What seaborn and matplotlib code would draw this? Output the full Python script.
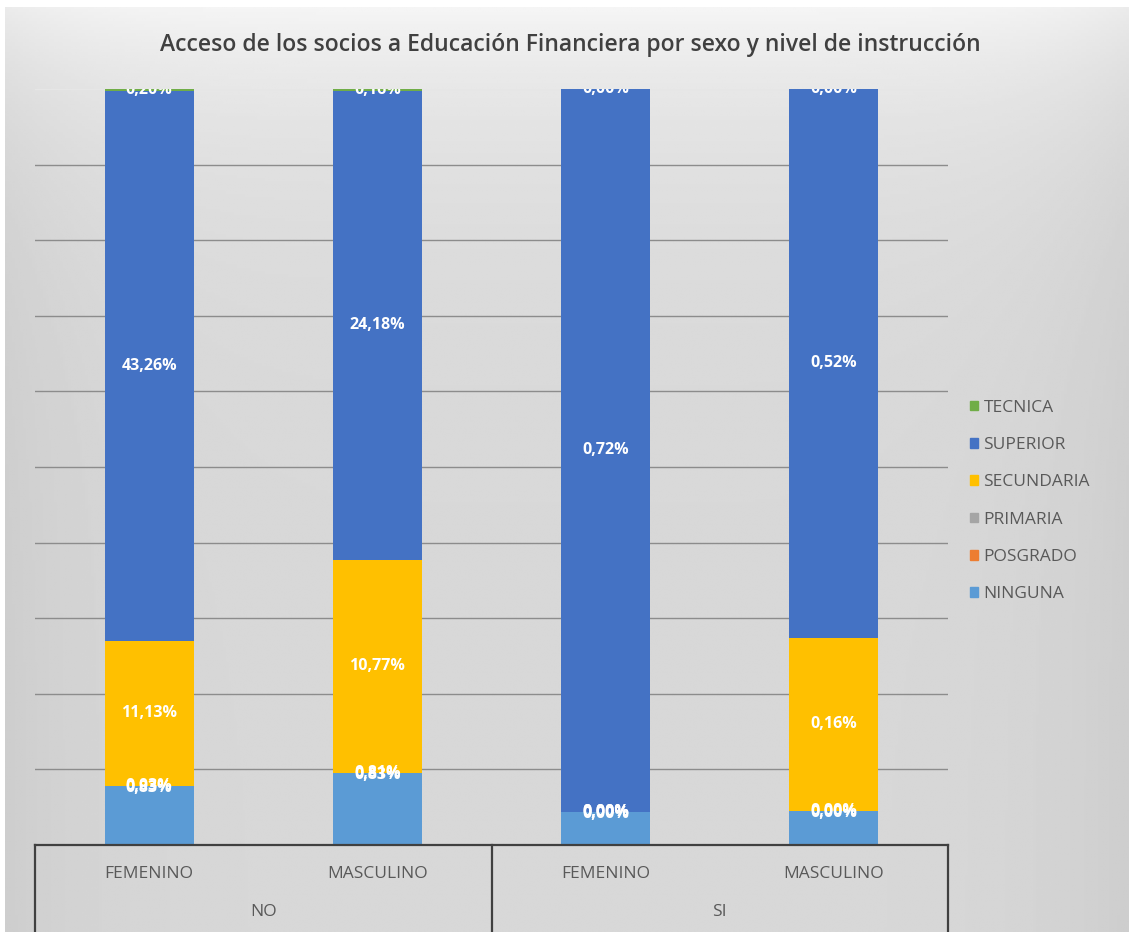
import numpy as np
import pandas as pd
import seaborn as sns
import matplotlib.pyplot as plt
from matplotlib.patches import Patch

# categorias (dos niveles)
grupos = ['NO', 'NO', 'SI', 'SI']
sexos = ['FEMENINO', 'MASCULINO', 'FEMENINO', 'MASCULINO']
niveles = ['NINGUNA', 'POSGRADO', 'PRIMARIA', 'SECUNDARIA', 'SUPERIOR', 'TECNICA']
colores = ['#5B9BD5', '#ED7D31', '#A5A5A5', '#FFC000', '#4472C4', '#70AD47']

# altura de cada segmento: % dentro de cada columna
ninguna = [7.8, 9.5, 4.4, 4.5]
posgrado = [0.0, 0.0, 0.0, 0.0]
primaria = [0.05, 0.05, 0.0, 0.0]
secundaria = [19.2, 28.2, 0.0, 22.9]
superior = [72.7, 62.0, 95.6, 72.6]
tecnica = [0.25, 0.25, 0.0, 0.0]

# etiquetas de datos que muestra el grafico (% del total)
etq_ninguna = [0.83, 0.83, 0.00, 0.00]
etq_primaria = [0.03, 0.81, 0.00, 0.00]
etq_secundaria = [11.13, 10.77, 0.00, 0.16]
etq_superior = [43.26, 24.18, 0.72, 0.52]
etq_tecnica = [0.20, 0.16, 0.00, 0.00]

df = pd.DataFrame({'col': [g + '-' + s for g, s in zip(grupos, sexos)],
                   'NINGUNA': ninguna, 'POSGRADO': posgrado, 'PRIMARIA': primaria,
                   'SECUNDARIA': secundaria, 'SUPERIOR': superior, 'TECNICA': tecnica})
for n in niveles:
    df[n] = df[n] / 100

plt.rcParams['font.family'] = ['Open Sans', 'DejaVu Sans']

fig = plt.figure(figsize=(11.29, 9.32), dpi=100)

# fondo degradado
bg = fig.add_axes([0.004, 0, 0.996, 0.992], zorder=-10)
yy = np.linspace(0, 1, 300)[:, None]
xx = np.linspace(0, 1, 400)[None, :]
fondo = 0.845 + 0.115 * np.exp(-yy * 7) - 0.04 * (2 * xx - 1) ** 6
bg.imshow(fondo, cmap='gray', vmin=0, vmax=1, aspect='auto', extent=[0, 1, 0, 1])
bg.axis('off')

ax = fig.add_axes([35 / 1129, 1 - 845 / 932, (948 - 35) / 1129, (845 - 89) / 932])
ax.set_facecolor('none')

base = np.zeros(len(df))
for n, c in zip(niveles, colores):
    sns.barplot(data=df, x='col', y=n, bottom=base, color=c, saturation=1,
                width=0.39, errorbar=None, ax=ax, linewidth=0)
    base = base + df[n].values

# etiquetas de datos
fmt = lambda v: f'{v:.2f}%'.replace('.', ',')
b_ning = df['NINGUNA'].values
b_prim = b_ning + df['POSGRADO'].values
b_sec = b_prim + df['PRIMARIA'].values
b_sup = b_sec + df['SECUNDARIA'].values
b_tec = b_sup + df['SUPERIOR'].values
lab_kw = dict(ha='center', va='center', color='white', fontsize=11.5, fontweight='bold', clip_on=True)
for i in range(len(df)):
    ax.text(i, b_ning[i] - 0.003, fmt(etq_ninguna[i]), **lab_kw)
    ax.text(i, b_prim[i] + df['PRIMARIA'].values[i] / 2, fmt(etq_primaria[i]), **lab_kw)
    ax.text(i, b_sec[i] + df['SECUNDARIA'].values[i] / 2, fmt(etq_secundaria[i]), **lab_kw)
    ax.text(i, b_sup[i] + df['SUPERIOR'].values[i] / 2, fmt(etq_superior[i]), **lab_kw)
    ax.text(i, b_tec[i] + df['TECNICA'].values[i] / 2, fmt(etq_tecnica[i]), **lab_kw)

ax.set_ylim(0, 1)
ax.set_xlim(-0.5, 3.5)
ax.set_yticks(np.arange(0, 1.01, 0.1))
ax.set_yticklabels([])
ax.yaxis.grid(True, color='#8c8c8c', linewidth=1)
ax.get_ygridlines()[-1].set_color('#e6e6e6')
ax.set_axisbelow(True)
ax.tick_params(axis='both', length=0)
ax.set_xticks(range(4))
ax.set_xticklabels(sexos, color='#595959', fontsize=12.5)
ax.tick_params(axis='x', pad=15)
ax.set_xlabel('')
ax.set_ylabel('')
for s in ['top', 'right', 'left']:
    ax.spines[s].set_visible(False)
ax.spines['bottom'].set_color('#404040')
ax.spines['bottom'].set_linewidth(1.6)

# separadores y etiquetas del segundo nivel
tr = ax.get_xaxis_transform()
for xv in [-0.5, 1.5, 3.5]:
    ax.plot([xv, xv], [0, -0.12], transform=tr, color='#404040', lw=1.6, clip_on=False)
for xv, g in [(0.5, 'NO'), (2.5, 'SI')]:
    ax.text(xv, -0.089, g, transform=tr, ha='center', va='center', color='#595959', fontsize=12.5)

fig.suptitle('Acceso de los socios a Educación Financiera por sexo y nivel de instrucción',
             x=570 / 1129, y=1 - 45 / 932, va='center', fontsize=16.5, fontweight='semibold',
             color='#404040')

handles = [Patch(color=c, label=n) for n, c in zip(niveles, colores)][::-1]
fig.legend(handles=handles, loc='center left', bbox_to_anchor=(954 / 1129, 1 - 501 / 932),
           frameon=False, fontsize=12.5, labelcolor='#595959', handlelength=0.5,
           handleheight=0.5, handletextpad=0.3, labelspacing=1.23)

fig.savefig('out.png', dpi=100)
